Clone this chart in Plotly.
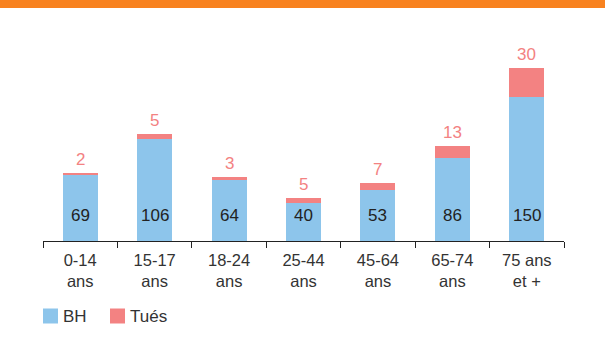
import plotly.graph_objects as go

categories = ["0-14<br>ans", "15-17<br>ans", "18-24<br>ans", "25-44<br>ans", "45-64<br>ans", "65-74<br>ans", "75 ans<br>et +"]
bh_values = [69, 106, 64, 40, 53, 86, 150]
tues_values = [2, 5, 3, 5, 7, 13, 30]
series_names = ["BH", "Tués"]

BLUE = "#8DC5EB"
RED = "#F38282"
ORANGE = "#F8821F"
FONT = "Liberation Sans, Arial, sans-serif"

W, H = 605, 337
ML, MR, MT, MB = 43, 41, 49, 96
PW, PH = W - ML - MR, H - MT - MB


def px_x(p):
    return (p - ML) / PW


def px_y(p):
    return (H - MB - p) / PH


fig = go.Figure()
fig.add_trace(go.Bar(x=categories, y=bh_values, name=series_names[0],
                     marker=dict(color=BLUE, line=dict(width=0)), hoverinfo="skip"))
fig.add_trace(go.Bar(x=categories, y=tues_values, name=series_names[1],
                     marker=dict(color=RED, line=dict(width=0)), hoverinfo="skip"))

annotations = []
for c, b, t in zip(categories, bh_values, tues_values):
    annotations.append(dict(x=c, y=0, text=str(b), showarrow=False, yanchor="middle", yshift=25.5,
                            font=dict(family=FONT, size=17, color="#222222")))
    annotations.append(dict(x=c, y=b + t, text=str(t), showarrow=False, yanchor="bottom", yshift=2,
                            font=dict(family=FONT, size=17, color=RED)))

shapes = [dict(type="rect", xref="paper", yref="paper", x0=px_x(-10), x1=px_x(W + 10),
               y0=px_y(8), y1=px_y(-10), fillcolor=ORANGE, line=dict(width=0), layer="above")]

# manual legend (square 15px, text after)
legend_items = [(series_names[0], BLUE, 43), (series_names[1], RED, 110)]
for name, col, x0 in legend_items:
    shapes.append(dict(type="rect", xref="paper", yref="paper", x0=px_x(x0), x1=px_x(x0 + 15),
                       y0=px_y(323.5), y1=px_y(308.5), fillcolor=col, line=dict(width=0)))
    annotations.append(dict(xref="paper", yref="paper", x=px_x(x0 + 18), y=px_y(316), text=name,
                            showarrow=False, xanchor="left", yanchor="middle",
                            font=dict(family=FONT, size=17, color="#333333")))

fig.update_layout(
    barmode="stack",
    bargap=0.53,
    width=W, height=H,
    margin=dict(l=ML, r=MR, t=MT, b=MB, autoexpand=False),
    paper_bgcolor="white", plot_bgcolor="white",
    font=dict(family=FONT, size=16, color="#333333"),
    annotations=annotations,
    shapes=shapes,
    showlegend=False,
)
fig.update_xaxes(showline=True, linecolor="#222222", linewidth=1, ticks="outside", ticklen=6,
                 tickcolor="#222222", tickson="boundaries", showgrid=False, automargin=False,
                 ticklabelstandoff=4,
                 tickfont=dict(family=FONT, size=16.5, color="#333333"))
fig.update_yaxes(range=[0, 200], visible=False, showgrid=False, automargin=False)

fig.write_html("out.html", config={"displayModeBar": False},
               post_script="document.body.style.margin='0';document.body.style.overflow='hidden';")
